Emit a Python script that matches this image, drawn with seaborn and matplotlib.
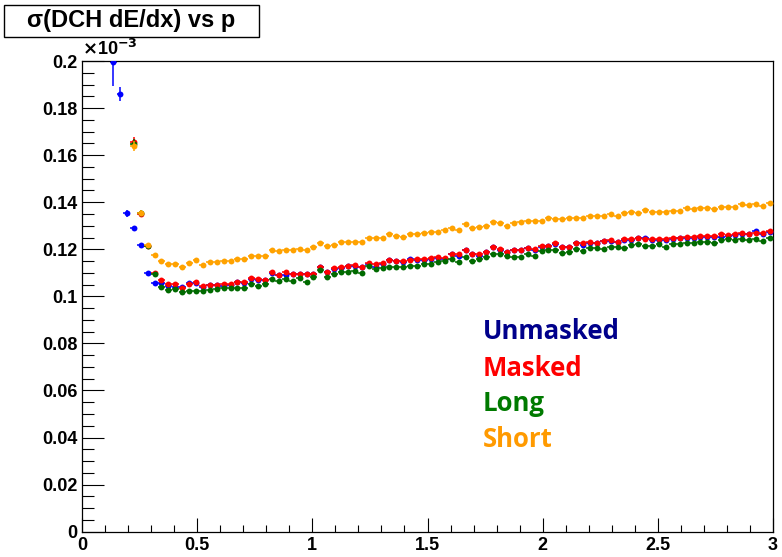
import numpy as np
import pandas as pd
import matplotlib
matplotlib.use("Agg")
import matplotlib.pyplot as plt
import seaborn as sns
from matplotlib.ticker import MultipleLocator, FuncFormatter
from matplotlib.patches import Rectangle

sns.set_theme(style="white")
plt.rcParams["font.family"] = ["Liberation Sans", "DejaVu Sans"]
plt.rcParams["font.weight"] = "bold"

# momentum bins (GeV/c), width 0.03
BIN = 0.03
p_unmasked = np.round(np.arange(0.135, 3.0, BIN), 3)
p_other = np.round(np.arange(0.225, 3.0, BIN), 3)

# sigma(dE/dx) in units of 1e-3
sig_unmasked = [
    0.1995, 0.1860, 0.1353, 0.1289, 0.1218, 0.1100, 0.1058,
    0.1056, 0.1044, 0.1040, 0.1038, 0.1058, 0.1055, 0.1040, 0.1047, 0.1048,
    0.1045, 0.1050, 0.1060, 0.1058, 0.1075, 0.1070, 0.1068,
    0.1101, 0.1089, 0.1091, 0.1093, 0.1094, 0.1093, 0.1094, 0.1124, 0.1103, 0.1117,
    0.1122, 0.1127, 0.1131, 0.1124, 0.1139, 0.1126, 0.1139, 0.1153, 0.1150, 0.1148,
    0.1158, 0.1156, 0.1156, 0.1160, 0.1164, 0.1160, 0.1178, 0.1170, 0.1195, 0.1178,
    0.1170, 0.1188, 0.1211, 0.1199, 0.1188, 0.1195, 0.1195, 0.1205,
    0.1199, 0.1211, 0.1214, 0.1223, 0.1209, 0.1209, 0.1226, 0.1218, 0.1227, 0.1226,
    0.1235, 0.1237, 0.1231, 0.1241, 0.1241, 0.1248, 0.1246, 0.1241, 0.1241, 0.1241,
    0.1244, 0.1248, 0.1249, 0.1249, 0.1254, 0.1254, 0.1251, 0.1251, 0.1258, 0.1262,
    0.1266, 0.1264, 0.1276, 0.1266, 0.1275,
]
sig_masked = [
    0.1657, 0.1350, 0.1215, 0.1098, 0.1070, 0.1053, 0.1052, 0.1034, 0.1052, 0.1062,
    0.1044, 0.1050, 0.1050, 0.1052, 0.1052, 0.1062, 0.1060, 0.1077, 0.1073, 0.1070,
    0.1104, 0.1091, 0.1105, 0.1095, 0.1095, 0.1095, 0.1095, 0.1126, 0.1105, 0.1119,
    0.1124, 0.1129, 0.1133, 0.1126, 0.1141, 0.1136, 0.1141, 0.1155, 0.1152, 0.1152,
    0.1155, 0.1158, 0.1158, 0.1162, 0.1166, 0.1162, 0.1180, 0.1180, 0.1197, 0.1180,
    0.1180, 0.1190, 0.1211, 0.1201, 0.1190, 0.1197, 0.1197, 0.1207,
    0.1201, 0.1216, 0.1216, 0.1225, 0.1211, 0.1211, 0.1228, 0.1225, 0.1229, 0.1228,
    0.1237, 0.1240, 0.1233, 0.1243, 0.1243, 0.1250, 0.1243, 0.1243, 0.1243, 0.1243,
    0.1246, 0.1250, 0.1251, 0.1251, 0.1256, 0.1256, 0.1256, 0.1264, 0.1260, 0.1264,
    0.1268, 0.1266, 0.1271, 0.1268, 0.1278,
]
sig_long = [
    0.1646, 0.1353, 0.1215, 0.1094, 0.1041, 0.1027, 0.1031, 0.1017, 0.1024, 0.1024,
    0.1021, 0.1027, 0.1031, 0.1034, 0.1037, 0.1034, 0.1034, 0.1051, 0.1045, 0.1051,
    0.1073, 0.1067, 0.1073, 0.1067, 0.1080, 0.1062, 0.1084, 0.1112, 0.1084, 0.1095,
    0.1105, 0.1105, 0.1109, 0.1098, 0.1131, 0.1115, 0.1119, 0.1126, 0.1126, 0.1126,
    0.1131, 0.1131, 0.1136, 0.1136, 0.1145, 0.1150, 0.1158, 0.1148, 0.1166, 0.1152,
    0.1158, 0.1169, 0.1180, 0.1179, 0.1172, 0.1169, 0.1169, 0.1180,
    0.1172, 0.1194, 0.1197, 0.1197, 0.1186, 0.1190, 0.1200, 0.1194, 0.1204, 0.1207,
    0.1201, 0.1211, 0.1211, 0.1207, 0.1218, 0.1222, 0.1215, 0.1215, 0.1221, 0.1208,
    0.1221, 0.1221, 0.1225, 0.1225, 0.1229, 0.1232, 0.1225, 0.1240, 0.1243, 0.1240,
    0.1243, 0.1240, 0.1243, 0.1237, 0.1250,
]
sig_short = [
    0.1640, 0.1353, 0.1218, 0.1176, 0.1150, 0.1137, 0.1137, 0.1126, 0.1141, 0.1155,
    0.1133, 0.1145, 0.1148, 0.1150, 0.1150, 0.1159, 0.1159, 0.1173, 0.1173, 0.1173,
    0.1196, 0.1192, 0.1196, 0.1196, 0.1200, 0.1196, 0.1211, 0.1228, 0.1215, 0.1220,
    0.1232, 0.1232, 0.1232, 0.1232, 0.1249, 0.1249, 0.1249, 0.1264, 0.1258, 0.1254,
    0.1265, 0.1265, 0.1271, 0.1275, 0.1275, 0.1282, 0.1292, 0.1282, 0.1306, 0.1292,
    0.1296, 0.1301, 0.1317, 0.1313, 0.1301, 0.1311, 0.1315, 0.1320,
    0.1322, 0.1322, 0.1332, 0.1327, 0.1327, 0.1332, 0.1335, 0.1332, 0.1343, 0.1343,
    0.1343, 0.1350, 0.1343, 0.1356, 0.1360, 0.1353, 0.1367, 0.1360, 0.1360, 0.1360,
    0.1364, 0.1364, 0.1374, 0.1370, 0.1374, 0.1374, 0.1370, 0.1381, 0.1381, 0.1381,
    0.1393, 0.1388, 0.1393, 0.1385, 0.1398,
]

# statistical errors: larger in the lowest-momentum bins
err_unmasked = [0.0103, 0.0031, 0.0014, 0.0010] + [0.0008] * (len(sig_unmasked) - 4)
err_other = [0.0022, 0.0012, 0.0009] + [0.0008] * (len(sig_masked) - 3)

labels = ["Unmasked", "Masked", "Long", "Short"]
marker_colors = ["#0000ff", "#ff0000", "#006a00", "#ffa200"]
text_colors = ["#00008b", "#ff0000", "#007a00", "#ff9a00"]

frames = [
    pd.DataFrame({"p": p_unmasked, "sigma": sig_unmasked, "err": err_unmasked, "set": "Unmasked"}),
    pd.DataFrame({"p": p_other, "sigma": sig_masked, "err": err_other, "set": "Masked"}),
    pd.DataFrame({"p": p_other, "sigma": sig_long, "err": err_other, "set": "Long"}),
    pd.DataFrame({"p": p_other, "sigma": sig_short, "err": err_other, "set": "Short"}),
]
df = pd.concat(frames, ignore_index=True)

W, H = 782, 557
fig = plt.figure(figsize=(W / 100, H / 100), dpi=100)
ax = fig.add_axes([82 / W, 1 - 531.7 / H, (773 - 82) / W, (531.7 - 61) / H])

for k, (name, col) in enumerate(zip(labels, marker_colors)):
    sub = df[df["set"] == name]
    ax.errorbar(sub["p"], sub["sigma"], xerr=BIN / 2, yerr=sub["err"], fmt="none",
                ecolor=col, elinewidth=1.1, capsize=0, zorder=2 + 2 * k)
    sns.scatterplot(data=sub, x="p", y="sigma", color=col, s=18, linewidth=0,
                    ax=ax, zorder=3 + 2 * k, legend=False)

ax.set_xlim(0, 3)
ax.set_ylim(0, 0.2)
ax.set_xlabel("")
ax.set_ylabel("")

ax.xaxis.set_major_locator(MultipleLocator(0.5))
ax.xaxis.set_minor_locator(MultipleLocator(0.1))
ax.yaxis.set_major_locator(MultipleLocator(0.02))
ax.yaxis.set_minor_locator(MultipleLocator(0.005))
fmt = FuncFormatter(lambda v, pos: f"{v:g}")
ax.xaxis.set_major_formatter(fmt)
ax.yaxis.set_major_formatter(fmt)

ax.tick_params(axis="both", which="both", direction="in", color="black",
               labelsize=13, labelcolor="black", bottom=True, left=True,
               top=False, right=False)
ax.tick_params(axis="x", which="major", length=10.3, width=0.8, pad=4)
ax.tick_params(axis="x", which="minor", length=5.0, width=0.8)
ax.tick_params(axis="y", which="major", length=15.8, width=0.8, pad=3.5)
ax.tick_params(axis="y", which="minor", length=8.6, width=0.8)

for side in ["left", "bottom", "top", "right"]:
    ax.spines[side].set_visible(True)
    ax.spines[side].set_color("black")
    ax.spines[side].set_linewidth(0.9)
ax.grid(False)

# exponent marker of the y axis
ax.text(0.0, 1.004, r"$\times$10$^{\mathbf{-3}}$", transform=ax.transAxes, ha="left",
        va="bottom", fontsize=13, fontweight="bold", color="black")

# coloured labels for each sample
text_x = 1.74
text_y = [0.0817, 0.0662, 0.0513, 0.0361]
for name, col, ty in zip(labels, text_colors, text_y):
    ax.text(text_x, ty, name, color=col, fontsize=18.5, fontweight="bold",
            family=["Open Sans", "DejaVu Sans"], ha="left", va="baseline")

# title box
fig.patches.append(Rectangle((4 / W, 1 - 37 / H), (259 - 4) / W, (37 - 5) / H,
                             transform=fig.transFigure, facecolor="white",
                             edgecolor="black", linewidth=1.0))
fig.text(131 / W, 1 - 21 / H, "σ(DCH dE/dx) vs p", ha="center", va="center",
         fontsize=17, fontweight="bold", color="black")

fig.savefig("out.png", dpi=100)
